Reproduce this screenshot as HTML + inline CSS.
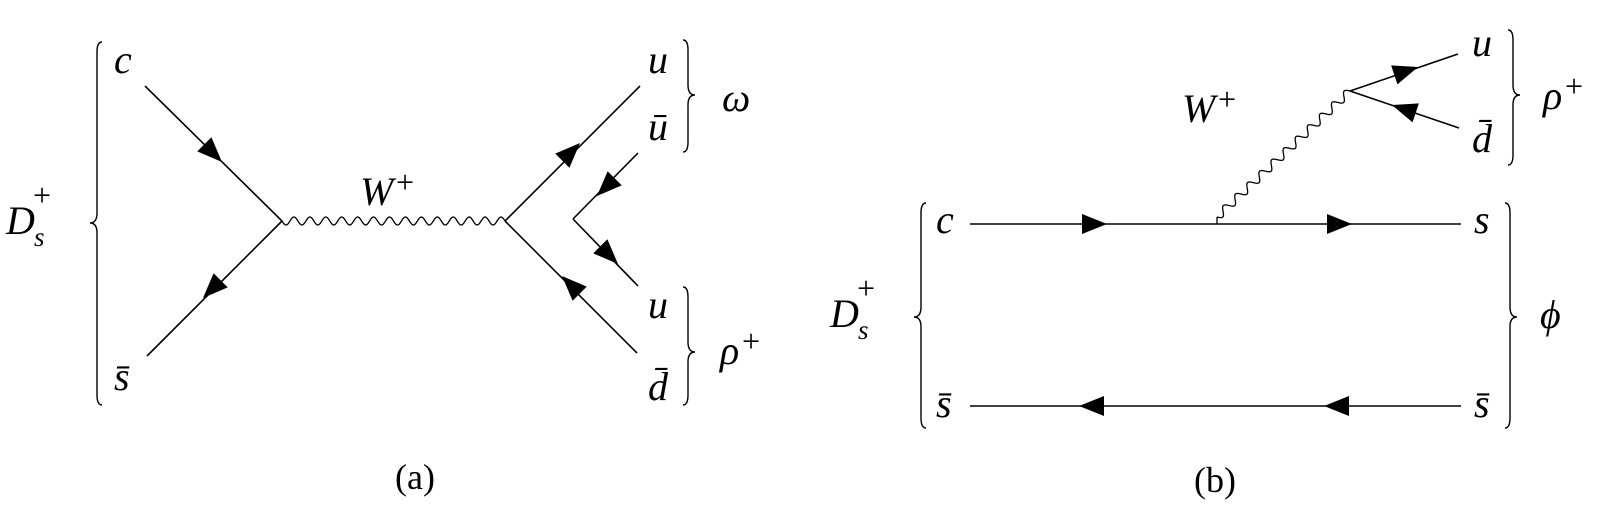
<!DOCTYPE html>
<html><head><meta charset="utf-8"><style>
html,body{margin:0;padding:0;background:#fff;}
svg{display:block;}
text{font-family:"Liberation Serif","DejaVu Serif",serif;font-style:italic;fill:#000;}
.up{font-style:normal;}
</style></head><body>
<svg id="s" width="1618" height="519" viewBox="0 0 1618 519" xmlns="http://www.w3.org/2000/svg">
<g id="g" stroke="#000" stroke-width="1.6" fill="none"></g>
<g id="a" fill="#000"></g>
<!-- (a) labels -->
<text x="114" y="73" font-size="40">c</text>
<text x="114" y="390" font-size="40">s̄</text>
<text x="6" y="234" font-size="40">D</text><text x="33" y="206" font-size="32" class="up">+</text><text x="34" y="246" font-size="27">s</text>
<text x="360" y="205" font-size="40">W</text><text x="396" y="193" font-size="32" class="up">+</text>
<text x="648" y="73" font-size="40">u</text>
<text x="648" y="140" font-size="40">ū</text>
<text x="648" y="318" font-size="40">u</text>
<text x="648" y="400" font-size="40">d̄</text>
<text x="722" y="111" font-size="40">ω</text>
<text x="720" y="364" font-size="40">ρ</text><text x="742" y="352" font-size="32" class="up">+</text>
<text x="415" y="489" font-size="36" class="up" text-anchor="middle">(a)</text>
<!-- (b) labels -->
<text x="936" y="233" font-size="40">c</text>
<text x="936" y="417" font-size="40">s̄</text>
<text x="1474" y="233" font-size="40">s</text>
<text x="1474" y="417" font-size="40">s̄</text>
<text x="830" y="327" font-size="40">D</text><text x="857" y="299" font-size="32" class="up">+</text><text x="858" y="339" font-size="27">s</text>
<text x="1182" y="122" font-size="40">W</text><text x="1218" y="110" font-size="32" class="up">+</text>
<text x="1472" y="56" font-size="40">u</text>
<text x="1472" y="152" font-size="40">d̄</text>
<text x="1543" y="109" font-size="40">ρ</text><text x="1565" y="97" font-size="32" class="up">+</text>
<text x="1540" y="328" font-size="40">ϕ</text>
<text x="1215" y="492" font-size="36" class="up" text-anchor="middle">(b)</text>
</svg>
<script>
var g=document.getElementById('g'),a=document.getElementById('a'),NS='http://www.w3.org/2000/svg';
function P(d,w){var p=document.createElementNS(NS,'path');p.setAttribute('d',d);if(w)p.setAttribute('stroke-width',w);g.appendChild(p);}
function L(x1,y1,x2,y2){P('M'+x1+' '+y1+'L'+x2+' '+y2);}
function A(tx,ty,dx,dy){var l=Math.hypot(dx,dy);dx/=l;dy/=l;var len=25,hw=10;
 var bx=tx-dx*len,by=ty-dy*len;var p=document.createElementNS(NS,'path');
 p.setAttribute('d','M'+tx+' '+ty+'L'+(bx-dy*hw)+' '+(by+dx*hw)+'L'+(bx+dy*hw)+' '+(by-dx*hw)+'Z');a.appendChild(p);}
function W(x1,y1,x2,y2,per,amp){var dx=x2-x1,dy=y2-y1,l=Math.hypot(dx,dy),ux=dx/l,uy=dy/l,n=Math.round(l/per),d='';
 for(var i=0;i<=400;i++){var t=i/400,s=t*l,o=amp*Math.sin(2*Math.PI*n*t);var x=x1+ux*s-uy*o,y=y1+uy*s+ux*o;d+=(i?'L':'M')+x.toFixed(2)+' '+y.toFixed(2);}P(d,1.3);}
function B(x,y1,y2,m,dir){var c=x+dir*7;P('M'+(x-dir*5)+' '+y1+'Q'+x+' '+y1+' '+x+' '+(y1+10)+'L'+x+' '+(m-10)+'Q'+x+' '+m+' '+c+' '+m+'Q'+x+' '+m+' '+x+' '+(m+10)+'L'+x+' '+(y2-10)+'Q'+x+' '+y2+' '+(x-dir*5)+' '+y2,1.4);}
// (a)
B(97,42,405,223,-1);
L(145,86,282,221);A(222,162,1,1);
L(282,221,147,356);A(203,298,-1,1);
W(282,221,505,221,16.5,4);
L(505,221,640,86);A(580,143,1,-1);
L(505,221,637,353);A(562,276,-1,-1);
L(638,153,573,219);L(573,219,638,286);A(597,196,-1,1);A(618,264,1,1);
B(688,40,152,95,1);B(688,287,405,352,1);
// (b)
B(921,203,428,317,-1);B(1510,203,428,317,1);
L(970,224,1461,224);A(1107,224,1,0);A(1352,224,1,0);
L(970,406,1461,406);A(1079,406,-1,0);A(1324,406,-1,0);
P('M1217 224L1217 217',1.3);W(1217,217,1350,91,16.5,4);
L(1350,91,1458,54);A(1418,67,3,-1);
L(1350,91,1459,128);A(1392,105,-3,-1);
B(1513,30,165,95,1);
</script>
</body></html>
